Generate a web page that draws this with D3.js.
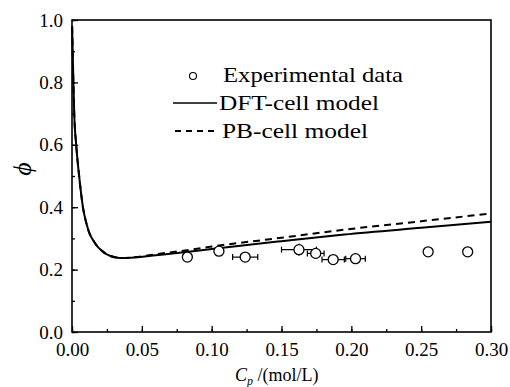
<!DOCTYPE html>
<html>
<head>
<meta charset="utf-8">
<script src="https://cdn.jsdelivr.net/npm/d3@7"></script>
<style>
  body { margin: 0; background: #fff; }
  text { font-family: "Liberation Serif", "Times New Roman", serif; fill: #000; }
</style>
</head>
<body>
<div class="phi_chart"></div>
<script>
// model curves (C_p in mol/L)
var cpModel = [0.0001, 0.001, 0.0016, 0.003, 0.005, 0.0079, 0.0105, 0.0126, 0.015, 0.0186, 0.0215, 0.0245, 0.028, 0.0316, 0.035, 0.045, 0.06, 0.085, 0.10, 0.15, 0.195, 0.25, 0.30];
var dftPhi  = [0.98, 0.80, 0.70, 0.60, 0.505, 0.398, 0.345, 0.315, 0.295, 0.272, 0.260, 0.250, 0.243, 0.239, 0.237, 0.239, 0.246, 0.258, 0.266, 0.291, 0.3125, 0.334, 0.353];
var pbPhi   = [0.98, 0.80, 0.70, 0.60, 0.505, 0.398, 0.345, 0.315, 0.295, 0.272, 0.260, 0.250, 0.243, 0.239, 0.237, 0.240, 0.249, 0.264, 0.274, 0.302, 0.328, 0.355, 0.380];

// experimental points and their error bars
var expCp   = [0.0826, 0.1052, 0.124, 0.1625, 0.1745, 0.187, 0.203, 0.255, 0.2833];
var expPhi  = [0.240, 0.259, 0.240, 0.264, 0.252, 0.232, 0.235, 0.257, 0.257];
var expXerr = [0, 0, 0.009, 0.0125, 0.006, 0.008, 0.007, 0, 0];
var expYerr = [0, 0, 0.015, 0.02, 0.012, 0.01, 0.006, 0, 0];

var xTicks = [0, 0.05, 0.10, 0.15, 0.20, 0.25, 0.30];
var yTicks = [0, 0.2, 0.4, 0.6, 0.8, 1.0];
var legendLabels = ["Experimental data", "DFT-cell model", "PB-cell model"];

var margin = {top: 20, right: 19, bottom: 55, left: 72},
    W = 510, H = 387,
    width = W - margin.left - margin.right,
    height = H - margin.top - margin.bottom;

var svg = d3.select(".phi_chart").append("svg")
  .attr("width", W)
  .attr("height", H);

var g = svg.append("g")
  .attr("transform", "translate(" + margin.left + "," + margin.top + ")");

var x = d3.scaleLinear().domain([0, 0.30]).range([0, width]);
var y = d3.scaleLinear().domain([0, 1.0]).range([height, 0]);

// minor ticks first, then major ticks with labels (ticks point inwards)
g.append("g")
  .attr("transform", "translate(0," + height + ")")
  .call(d3.axisBottom(x).tickValues(d3.range(0, 0.3001, 0.025)).tickSize(-3).tickFormat(""));
g.append("g")
  .call(d3.axisLeft(y).tickValues(d3.range(0, 1.001, 0.1)).tickSize(-3).tickFormat(""));

var xAxis = g.append("g")
  .attr("transform", "translate(0," + height + ")")
  .call(d3.axisBottom(x).tickValues(xTicks).tickSize(-6).tickPadding(9).tickFormat(d3.format(".2f")));
var yAxis = g.append("g")
  .call(d3.axisLeft(y).tickValues(yTicks).tickSize(-6).tickPadding(9).tickFormat(d3.format(".1f")));

g.selectAll(".domain").remove();
g.selectAll(".tick line").attr("stroke", "#000").attr("stroke-width", 1.3);
xAxis.selectAll("text").style("font-size", "19px").attr("dy", "0.75em").attr("y", 10);
yAxis.selectAll("text").style("font-size", "19px");

// frame
g.append("rect")
  .attr("width", width)
  .attr("height", height)
  .attr("fill", "none")
  .attr("stroke", "#000")
  .attr("stroke-width", 1.6);

// model lines
var line = d3.line()
  .x(function(d) { return x(d[0]); })
  .y(function(d) { return y(d[1]); })
  .curve(d3.curveMonotoneX);

g.append("path")
  .datum(d3.zip(cpModel, pbPhi))
  .attr("d", line)
  .attr("fill", "none")
  .attr("stroke", "#000")
  .attr("stroke-width", 2)
  .attr("stroke-dasharray", "7,5");

g.append("path")
  .datum(d3.zip(cpModel, dftPhi))
  .attr("d", line)
  .attr("fill", "none")
  .attr("stroke", "#000")
  .attr("stroke-width", 2);

// experimental data with error bars
var pts = expCp.map(function(c, i) {
  return {cp: c, phi: expPhi[i], xe: expXerr[i], ye: expYerr[i]};
});

var err = g.selectAll(".err").data(pts.filter(function(d) { return d.xe > 0; }))
  .enter().append("g").attr("class", "err")
  .attr("stroke", "#000").attr("stroke-width", 1.2);
err.append("line")
  .attr("x1", function(d) { return x(d.cp - d.xe); })
  .attr("x2", function(d) { return x(d.cp + d.xe); })
  .attr("y1", function(d) { return y(d.phi); })
  .attr("y2", function(d) { return y(d.phi); });
err.append("line")
  .attr("x1", function(d) { return x(d.cp - d.xe); })
  .attr("x2", function(d) { return x(d.cp - d.xe); })
  .attr("y1", function(d) { return y(d.phi) - 3; })
  .attr("y2", function(d) { return y(d.phi) + 3; });
err.append("line")
  .attr("x1", function(d) { return x(d.cp + d.xe); })
  .attr("x2", function(d) { return x(d.cp + d.xe); })
  .attr("y1", function(d) { return y(d.phi) - 3; })
  .attr("y2", function(d) { return y(d.phi) + 3; });
err.append("line")
  .attr("x1", function(d) { return x(d.cp); })
  .attr("x2", function(d) { return x(d.cp); })
  .attr("y1", function(d) { return y(d.phi - d.ye); })
  .attr("y2", function(d) { return y(d.phi + d.ye); });

g.selectAll(".pt").data(pts)
  .enter().append("circle")
  .attr("class", "pt")
  .attr("cx", function(d) { return x(d.cp); })
  .attr("cy", function(d) { return y(d.phi); })
  .attr("r", 5)
  .attr("fill", "#fff")
  .attr("stroke", "#000")
  .attr("stroke-width", 1.3);

// legend
var leg = svg.append("g");
leg.append("circle")
  .attr("cx", 193).attr("cy", 76).attr("r", 3.5)
  .attr("fill", "none").attr("stroke", "#000").attr("stroke-width", 1.1);
leg.append("line")
  .attr("x1", 173).attr("x2", 217).attr("y1", 103).attr("y2", 103)
  .attr("stroke", "#000").attr("stroke-width", 1.4);
leg.append("line")
  .attr("x1", 175).attr("x2", 219).attr("y1", 131).attr("y2", 131)
  .attr("stroke", "#000").attr("stroke-width", 1.8).attr("stroke-dasharray", "6,5");
var legX = [223, 219, 222], legY = [82, 110, 138], legW = [180, 160, 146];
leg.selectAll(".lt").data(legendLabels)
  .enter().append("text")
  .attr("x", function(d, i) { return legX[i]; })
  .attr("y", function(d, i) { return legY[i]; })
  .attr("textLength", function(d, i) { return legW[i]; })
  .attr("lengthAdjust", "spacingAndGlyphs")
  .style("font-size", "21px")
  .text(function(d) { return d; });

// axis titles
var xt = svg.append("text")
  .attr("x", 235)
  .attr("y", 381)
  .style("font-size", "18px");
xt.append("tspan").style("font-style", "italic").text("C");
xt.append("tspan").style("font-style", "italic").style("font-size", "12px").attr("dy", 4).text("p");
xt.append("tspan").attr("dy", -4).text(" /(mol/L)");

// phi drawn lying on its side, as in the original
svg.append("text")
  .attr("transform", "translate(31,169) rotate(-90)")
  .attr("text-anchor", "middle")
  .style("font-size", "26px")
  .style("font-style", "italic")
  .text("\u03d5");
</script>
</body>
</html>
